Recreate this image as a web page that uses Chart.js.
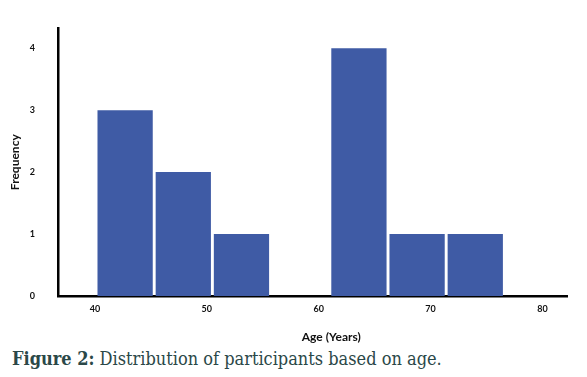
<!DOCTYPE html>
<html lang="en">
  <head>
    <meta charset="UTF-8" />
    <title>Distribution of participants based on age</title>
    <script src="https://cdn.jsdelivr.net/npm/chart.js"></script>
    <style>
      body {
        margin: 0;
        background: #fff;
      }
      #wrap {
        width: 587px;
        height: 348px;
        position: relative;
      }
      .caption {
        font-family: "DejaVu Serif Condensed", "DejaVu Serif", serif;
        font-size: 18px;
        color: #2b4848;
        margin: 0 0 0 12px;
        line-height: 22px;
      }
    </style>
  </head>
  <body>
    <div id="wrap"><canvas id="myChart"></canvas></div>
    <p class="caption"><b>Figure 2:</b> Distribution of participants based on age.</p>

    <script>
      // age bins (bin centre, years) and how many participants fall in each
      const binCentres = [42.7, 47.9, 53.1, 58.3, 63.6, 68.8, 74.0];
      const counts = [3, 2, 1, 0, 4, 1, 1];
      const ageTicks = [40, 50, 60, 70, 80];
      const freqTicks = [0, 1, 2, 3, 4];

      const points = binCentres.map((x, i) => ({ x: x, y: counts[i] }));

      const ctx = document.getElementById("myChart").getContext("2d");
      const myChart = new Chart(ctx, {
        type: "bar",
        data: {
          datasets: [
            {
              label: "Frequency",
              data: points,
              backgroundColor: "#3f5ba5",
              borderWidth: 0,
              barPercentage: 0.95,
              categoryPercentage: 1,
            },
          ],
        },
        options: {
          responsive: true,
          maintainAspectRatio: false,
          animation: false,
          layout: { padding: { top: 27, right: 20, left: 0, bottom: 0 } },
          plugins: {
            legend: { display: false },
            tooltip: { enabled: false },
          },
          scales: {
            x: {
              type: "linear",
              offset: false,
              min: 36.7,
              max: 82.2,
              afterBuildTicks: (scale) => {
                scale.ticks = ageTicks.map((v) => ({ value: v }));
              },
              afterFit: (scale) => {
                scale.height = 52;
              },
              grid: { display: false, drawTicks: false, offset: false },
              border: { display: true, color: "#000", width: 2.5 },
              ticks: {
                color: "#111",
                padding: 8,
                font: { family: "Lato", size: 9, weight: "bold" },
              },
              title: {
                display: true,
                // leading spaces nudge the title right, as in the original figure
                text: "\u00a0".repeat(13) + "Age (Years)",
                color: "#111",
                font: { family: "Lato", size: 12, weight: "bold" },
                padding: { top: 0, bottom: 4 },
              },
            },
            y: {
              min: 0,
              max: 4.32,
              afterBuildTicks: (scale) => {
                scale.ticks = freqTicks.map((v) => ({ value: v }));
              },
              afterFit: (scale) => {
                scale.width = 58;
              },
              grid: { display: false, drawTicks: false },
              border: { display: true, color: "#000", width: 2.5 },
              ticks: {
                color: "#111",
                padding: 23,
                font: { family: "Lato", size: 9, weight: "bold" },
              },
              title: {
                display: true,
                text: "Frequency",
                color: "#111",
                font: { family: "Lato", size: 12, weight: "bold" },
                padding: { top: 8, bottom: 0 },
              },
            },
          },
        },
      });
    </script>
  </body>
</html>
